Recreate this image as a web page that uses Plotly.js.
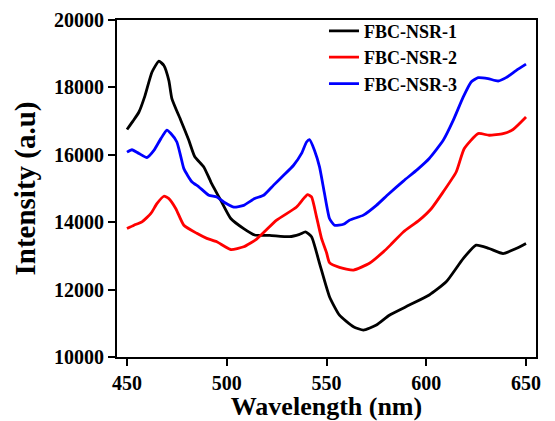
<!DOCTYPE html>
<html>
<head>
<meta charset="utf-8">
<script src="https://cdn.plot.ly/plotly-3.0.1.min.js"></script>
<style>html,body{margin:0;padding:0;background:#fff;}#chart{width:555px;height:421px;}</style>
</head>
<body>
<div id="chart"></div>
<script>
const seriesNames = ["FBC-NSR-1", "FBC-NSR-2", "FBC-NSR-3"];

const wl1 = [450,453,456,459,462.5,466,468.5,471,472.5,477,481,484,488.5,492,497,502,508.5,514,521.5,531.5,536.5,539.5,542.5,546.5,551.5,556.5,563.5,568.5,575,581.5,591.5,601.5,610,618.5,625,631.5,638.5,645,650];
const int1 = [16750,17000,17270,17750,18450,18780,18650,18200,17670,17020,16430,15940,15640,15200,14650,14110,13810,13620,13610,13570,13640,13710,13570,12780,11790,11240,10900,10800,10950,11240,11540,11840,12230,12920,13320,13220,13070,13220,13370];

const wl2 = [450,453.5,457.5,462,465,468.5,471,474.5,478.5,485,490,495,502,508.5,515,525,535,538.5,540.5,542.5,545,547.5,550,551.5,556.5,563.5,571.5,578.5,582,588.5,596.5,602.5,608.5,615,619,626,631.5,638.5,643.5,650];
const int2 = [13810,13910,14010,14260,14550,14770,14700,14400,13910,13670,13520,13420,13190,13270,13500,14060,14450,14700,14820,14750,14160,13520,13100,12800,12660,12580,12780,13120,13320,13710,14060,14400,14900,15490,16180,16630,16580,16630,16750,17120];

const wl3 = [450,452.5,456,460,463.5,467,470,472,475,477,478.5,482.5,486,491,495,498.5,503.5,508.5,514,518.5,523.5,528.5,533.5,537.5,540,541.5,544,546.5,549,551.5,554,558.5,561.5,568.5,575,581,588.5,595.5,601.5,608.5,613.5,618.5,622.5,626,631,636,640,645,650];
const int3 = [16080,16150,16040,15920,16130,16480,16730,16630,16380,15940,15590,15200,15050,14800,14750,14600,14450,14500,14700,14800,15100,15390,15690,16040,16380,16450,16130,15640,14850,14110,13910,13940,14060,14210,14500,14830,15220,15560,15890,16430,17020,17710,18160,18290,18260,18190,18290,18500,18690];

const xTicks = [450, 500, 550, 600, 650];
const yTicks = [10000, 12000, 14000, 16000, 18000, 20000];

const colors = ["#000000", "#ff0000", "#0000ff"];
const xs = [wl1, wl2, wl3];
const ys = [int1, int2, int3];

const serif = "Liberation Serif, Times New Roman, serif";

const data = seriesNames.map((n, i) => ({
  x: xs[i], y: ys[i], name: n, type: "scatter", mode: "lines",
  line: {color: colors[i], width: 2.8, shape: "spline", smoothing: 0.5}
}));

const axisCommon = {
  showgrid: false, zeroline: false, showline: true, linecolor: "#000", linewidth: 2,
  mirror: true, ticks: "outside", ticklen: 7, tickwidth: 2, tickcolor: "#000",
  tickfont: {family: serif, size: 20, color: "#000", weight: "bold"},
  automargin: false
};

const layout = {
  width: 555, height: 421,
  margin: {l: 117, r: 19, t: 20, b: 64},
  paper_bgcolor: "#fff", plot_bgcolor: "#fff",
  showlegend: true,
  legend: {
    x: 0.494, y: 1.022, xanchor: "left", yanchor: "top",
    bgcolor: "rgba(0,0,0,0)", borderwidth: 0,
    font: {family: serif, size: 18, color: "#000", weight: "bold"},
    tracegroupgap: 0
  },
  xaxis: Object.assign({}, axisCommon, {
    range: [445, 655], tickvals: xTicks, ticktext: xTicks.map(String),
    title: {text: "Wavelength (nm)", font: {family: serif, size: 26, color: "#000", weight: "bold"}, standoff: 13}
  }),
  yaxis: Object.assign({}, axisCommon, {
    range: [10000, 20000], tickvals: yTicks, ticktext: yTicks.map(String),
    title: {text: "Intensity (a.u)", font: {family: serif, size: 29, color: "#000", weight: "bold"}, standoff: 10}
  })
};

Plotly.newPlot("chart", data, layout, {displayModeBar: false, staticPlot: true});
</script>
</body>
</html>
